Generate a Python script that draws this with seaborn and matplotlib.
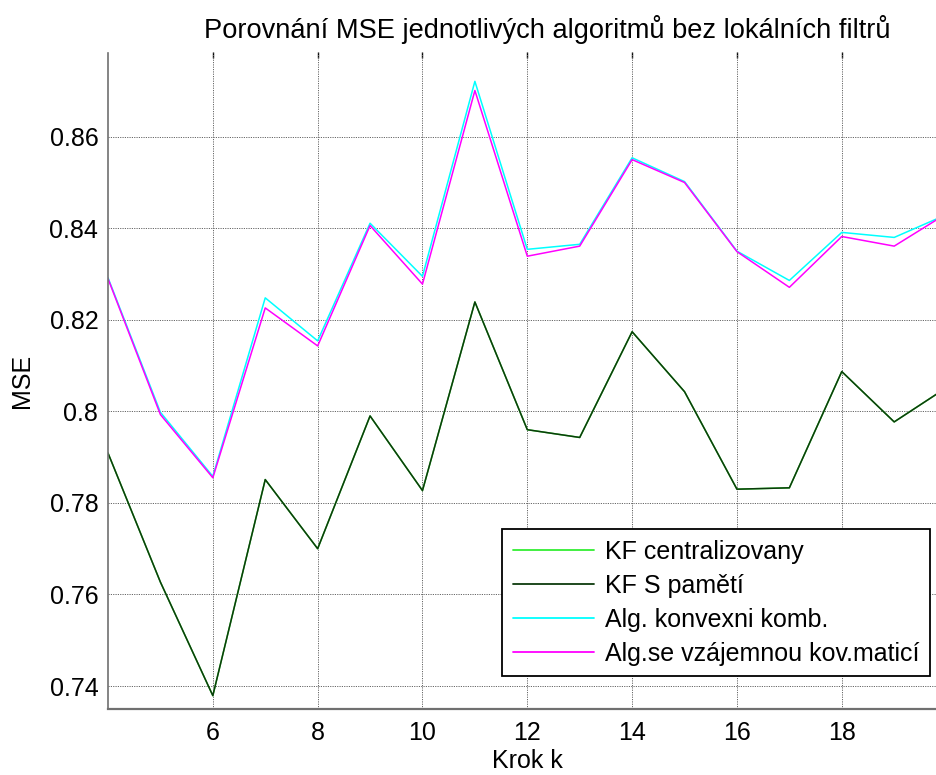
import numpy as np
import pandas as pd
import matplotlib
matplotlib.use("Agg")
import matplotlib.pyplot as plt
import seaborn as sns

# MSE per time step for each estimation algorithm
steps = [4, 5, 6, 7, 8, 9, 10, 11, 12, 13, 14, 15, 16, 17, 18, 19, 20]
kf_central = [0.7909, 0.7627, 0.7379, 0.7851, 0.7700, 0.7990, 0.7827, 0.8239,
              0.7960, 0.7943, 0.8174, 0.8043, 0.7830, 0.7833, 0.8087, 0.7977, 0.8052]
kf_memory = [0.7909, 0.7627, 0.7379, 0.7851, 0.7700, 0.7990, 0.7827, 0.8239,
             0.7960, 0.7943, 0.8174, 0.8043, 0.7830, 0.7833, 0.8087, 0.7977, 0.8052]
alg_convex = [0.8292, 0.7998, 0.7858, 0.8248, 0.8154, 0.8411, 0.8295, 0.8721,
              0.8354, 0.8365, 0.8554, 0.8502, 0.8350, 0.8286, 0.8391, 0.8380, 0.8430]
alg_cov = [0.8290, 0.7993, 0.7855, 0.8226, 0.8143, 0.8406, 0.8278, 0.8701,
           0.8339, 0.8361, 0.8550, 0.8500, 0.8349, 0.8271, 0.8382, 0.8361, 0.8432]

series_names = ["KF centralizovany", "KF S pamětí",
                "Alg. konvexni komb.", "Alg.se vzájemnou kov.maticí"]
series_values = [kf_central, kf_memory, alg_convex, alg_cov]
series_colors = ["#33ee33", "#0d3a0d", "#00ffff", "#ff00ff"]

x_ticks = [6, 8, 10, 12, 14, 16, 18]
y_ticks = [0.74, 0.76, 0.78, 0.80, 0.82, 0.84, 0.86]
y_tick_labels = ["0.74", "0.76", "0.78", "0.8", "0.82", "0.84", "0.86"]

df = pd.concat(
    [pd.DataFrame({"Krok": steps, "MSE": vals, "serie": name})
     for name, vals in zip(series_names, series_values)],
    ignore_index=True,
)

sns.set_style("white")
plt.rcParams["font.family"] = ["Liberation Sans", "DejaVu Sans"]
plt.rcParams["text.color"] = "black"
plt.rcParams["axes.labelcolor"] = "black"
plt.rcParams["xtick.color"] = "black"
plt.rcParams["ytick.color"] = "black"

fig = plt.figure(figsize=(9.36, 7.75), dpi=100)
ax = fig.add_axes([108 / 936, 1 - 709 / 775, 838.6 / 936, (709 - 52.5) / 775])

sns.lineplot(data=df, x="Krok", y="MSE", hue="serie", hue_order=series_names,
             palette=series_colors, linewidth=1.1, ax=ax, legend=True,
             estimator=None, sort=False)

ax.set_xlim(4, 20)
ax.set_ylim(0.73498, 0.8784)
ax.set_xticks(x_ticks)
ax.set_xticklabels([str(t) for t in x_ticks])
ax.set_yticks(y_ticks)
ax.set_yticklabels(y_tick_labels)

ax.grid(True, color="#666666", linestyle=(0, (1.2, 1.2)), linewidth=0.7)
ax.tick_params(axis="both", direction="in", length=8, width=1.0, colors="black",
               labelcolor="black", labelsize=18, pad=7)
ax.tick_params(axis="x", pad=9)

# short tick marks along the upper edge
top = ax.secondary_xaxis("top")
top.set_xticks(x_ticks)
top.tick_params(direction="in", length=4, width=1.0, labeltop=False)
top.spines["top"].set_visible(False)

for side in ["top", "right"]:
    ax.spines[side].set_visible(False)
ax.spines["left"].set_color("#707070")
ax.spines["left"].set_linewidth(1.2)
ax.spines["bottom"].set_color("#707070")
ax.spines["bottom"].set_linewidth(1.6)

ax.set_xlabel("Krok k", fontsize=18, labelpad=2.5)
ax.set_ylabel("MSE", fontsize=18, labelpad=11)
ax.set_title("Porovnání MSE jednotlivých algoritmů bez lokálních filtrů",
             fontsize=19.6, x=0.5235, pad=10.5)

handles, labels = ax.get_legend_handles_labels()
leg = ax.legend(handles, labels, loc="upper left",
                bbox_to_anchor=(502 / 936, 1 - 529 / 775),
                bbox_transform=fig.transFigure, fontsize=18, frameon=True,
                fancybox=False, edgecolor="black", framealpha=1,
                borderpad=0.42, labelspacing=0.4, handlelength=3.25,
                handletextpad=0.45, borderaxespad=0)
leg.get_frame().set_linewidth(1.3)
for line in leg.get_lines():
    line.set_linewidth(1.3)

fig.savefig("out.png", dpi=100)
